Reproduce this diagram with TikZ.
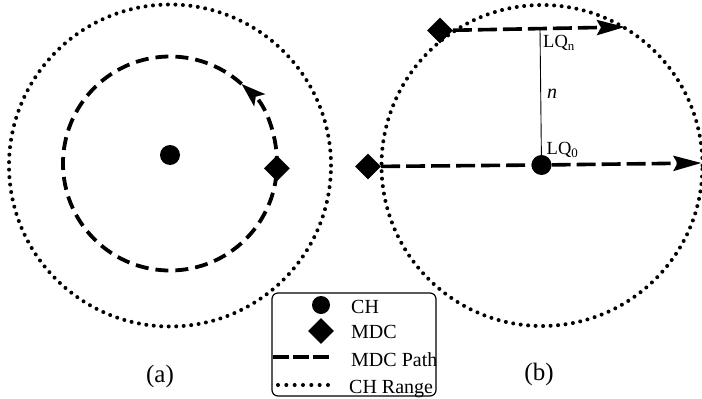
\documentclass[tikz,border=0pt]{standalone}
\usepackage{fontspec}
\setmainfont{Liberation Serif}
\usetikzlibrary{arrows.meta,shapes.geometric}
\begin{document}
\begin{tikzpicture}[x=1pt,y=-1pt,
  chdot/.style={circle,fill=black,inner sep=0pt,minimum size=20pt},
  mdc/.style={diamond,fill=black,inner sep=0pt,minimum width=26pt,minimum height=26pt},
  rangeline/.style={line width=4pt,line cap=round,dash pattern=on 0pt off 7.5pt},
  pathA/.style={line width=3.8pt,dash pattern=on 13pt off 7pt},
  pathB/.style={line width=3.6pt,dash pattern=on 19pt off 6pt},
  tipB/.style={-{Stealth[length=28pt,width=15pt,inset=4pt]}},
  tipA/.style={-{Stealth[length=24pt,width=16pt,inset=5pt]}},
  lbl/.style={font=\fontsize{18.5}{20}\selectfont,inner sep=0pt},
  captxt/.style={font=\fontsize{25}{28}\selectfont,inner sep=0pt},
  legtxt/.style={font=\fontsize{20}{22}\selectfont,inner sep=0pt,anchor=base west}]
\useasboundingbox (0,0) rectangle (702,399);

% ---------- panel (a) ----------
\coordinate (rA) at (170,165.5);
\coordinate (cA) at (170,163.5);
\draw[rangeline] (rA) circle[radius=161pt];
\draw[pathA] ([shift={(48:107pt)}]cA) arc[start angle=48,end angle=357,radius=107pt];
\draw[pathA,tipA] ([shift={(-3:107pt)}]cA) arc[start angle=-3,end angle=48,radius=107pt];
\node[chdot] (chA) at (170,155) {};
\node[mdc] (mA) at ([shift={(-2.6:107pt)}]cA) {};
\node[captxt] (capa) at (160,376) {(a)};

% ---------- panel (b) ----------
\coordinate (rB) at (542,165.5);
\draw[rangeline] (rB) circle[radius=160.5pt];
\node[chdot] (chB) at (541.5,165) {};
\node[mdc] (m0) at (368,166.5) {};
\node[mdc] (mn) at (440,30.5) {};
\coordinate (t0) at (701.5,163);
\coordinate (tn) at (625,27);
\coordinate (qn) at (540,29);
\draw[pathB] (m0) -- (chB);
\draw[pathB,tipB] (chB) -- (t0);
\draw[pathB,tipB] (mn) -- (tn);
\draw[line width=0.9pt] (chB) -- (qn);
\node[lbl,anchor=north west] (lqn) at (543,35) {LQ\textsubscript{n}};
\node[lbl,anchor=north west] (lq0) at (546.5,142) {LQ\textsubscript{0}};
\node[lbl,font=\fontsize{20}{22}\selectfont\itshape] (nl) at (552,94) {n};
\node[captxt] (capb) at (539,374.5) {(b)};

% ---------- legend ----------
\node[draw,rounded corners=6pt,line width=1.2pt,minimum width=164pt,minimum height=103pt,inner sep=0pt] (leg) at (354,344.5) {};
\node[chdot,minimum size=18pt] (lgch) at (321,305) {};
\node[mdc] (lgmdc) at (321,331) {};
\coordinate (lgp1) at (273.3,357);
\coordinate (lgp2) at (329.5,357);
\draw[line width=3.4pt,dash pattern=on 16pt off 4pt] (lgp1) -- (lgp2);
\coordinate (lgr1) at (278,385);
\coordinate (lgr2) at (328.5,385);
\draw[line width=4pt,line cap=round,dash pattern=on 0pt off 8.33pt] (lgr1) -- (lgr2);
\node[legtxt] (lt1) at (351,313) {CH};
\node[legtxt] (lt2) at (351,338.5) {MDC};
\node[legtxt] (lt3) at (351,366.5) {MDC Path};
\node[legtxt] (lt4) at (349,393) {CH Range};
\end{tikzpicture}
\end{document}
